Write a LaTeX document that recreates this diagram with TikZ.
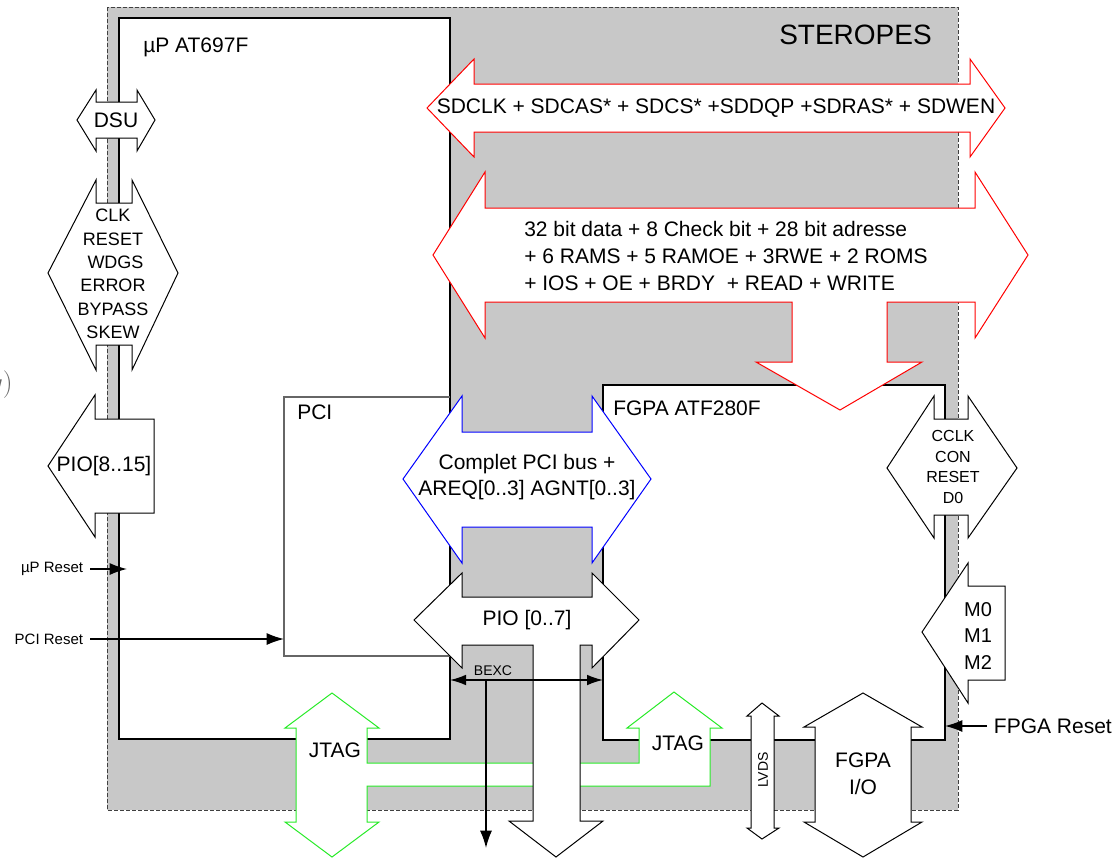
\documentclass[tikz,border=0pt]{standalone}
\usepackage{fontspec}
\setmainfont{Liberation Sans}
\usepackage{tikz}
\usetikzlibrary{arrows.meta,positioning}
\definecolor{boardgray}{RGB}{200,200,200}
\definecolor{busred}{RGB}{255,0,0}
\definecolor{busblue}{RGB}{0,0,255}
\definecolor{busgreen}{RGB}{40,235,40}

\begin{document}
\begin{tikzpicture}[x=0.75pt,y=-0.75pt,
                  board/.style={draw=black!75,fill=boardgray,line width=0.6pt,dash pattern=on 3pt off 1.5pt},
                  chip/.style={draw=black,fill=white,line width=1.4pt},
                  sub/.style={draw=black!60,line width=0.8pt},
                  bus/.style={draw=black,fill=white,line width=0.75pt,line join=miter},
                  rbus/.style={bus,draw=busred},
                  bbus/.style={bus,draw=busblue},
                  gbus/.style={bus,draw=busgreen},
                  sig/.style={-{Latex[length=13pt,width=9pt]},line width=1.1pt},
                  dsig/.style={{Latex[length=12pt,width=8pt]}-{Latex[length=12pt,width=8pt]},line width=1.1pt},
                  tx/.style={font=\fontsize{15.75}{19.9}\selectfont,align=center,inner sep=0pt},
                  tsig/.style={font=\fontsize{13.5}{17.6}\selectfont,align=center,inner sep=0pt},
                  tcfg/.style={font=\fontsize{12}{15.5}\selectfont,align=center,inner sep=0pt},
                  tm/.style={font=\fontsize{15}{20}\selectfont,align=center,inner sep=0pt},
                  tsm/.style={font=\fontsize{11.25}{13}\selectfont,inner xsep=5pt,inner ysep=0pt},
                  ttiny/.style={font=\fontsize{10.5}{12}\selectfont,inner sep=0pt}
                ]
                \useasboundingbox (0,0) rectangle (1117,857);
                \node[anchor=east,text=black!60,inner sep=0pt,font=\fontsize{20}{22}\selectfont] (cut) at (13,385) {$y)$};

                \draw[board] (107,7) rectangle (958,810);
                \node[anchor=east,inner sep=0pt,font=\fontsize{21}{24}\selectfont] (board) at (932,35) {STEROPES};
                \draw[chip] (119,18) rectangle (450,739);
                \node[tx,anchor=west] (cpu) at (143,47) {µP AT697F};
                \draw[chip] (603,385) rectangle (945,740);
                \node[tx,anchor=west] (fpga) at (613,408) {FGPA ATF280F};
                \draw[sub] (450,397) -| (284,656) -- (450,656);
                \node[tx,anchor=west] (pci) at (297,412) {PCI};

                \draw[rbus] (427,108) -- (474,59) -- (474,84) -- (970,84) -- (970,59) -- (1005,108) -- (970,157) -- (970,132) -- (474,132) -- (474,157) -- cycle;
                \node[tx] (sdram) at (716,108) {SDCLK + SDCAS* + SDCS* +SDDQP +SDRAS* + SDWEN};
                \draw[rbus] (433,255) -- (485,172) -- (485,208) -- (975,208) -- (975,172) -- (1028,255) -- (975,338) -- (975,302) -- (887,302) -- (887,362) -- (922,362) -- (840,410) -- (756,362) -- (792,362) -- (792,302) -- (485,302) -- (485,338) -- cycle;
                \node[tx,anchor=west,align=left,font=\fontsize{15.75}{19.9}\selectfont] (mem) at (524,256) {32 bit data + 8 Check bit + 28 bit adresse\\+ 6 RAMS + 5 RAMOE + 3RWE + 2 ROMS\\+ IOS + OE + BRDY \ + READ + WRITE};
                \draw[bbus] (403,479) -- (462,396) -- (462,432) -- (592,432) -- (592,396) -- (651,479) -- (592,563) -- (592,527) -- (462,527) -- (462,563) -- cycle;
                \node[tx] (pcibus) at (527,477) {Complet PCI bus +\\AREQ[0..3] AGNT[0..3]};

                \draw[gbus] (332,693) -- (379,728) -- (367,728) -- (367,763) -- (639,763) -- (639,728) -- (627,728) -- (674,692) -- (722,728) -- (710,728) -- (710,786) -- (367,786) -- (367,822) -- (379,822) -- (332,857) -- (285,822) -- (296,822) -- (296,728) -- (285,728) -- cycle;
                \node[tx] (jtagl) at (335,750) {JTAG};
                \node[tx] (jtagr) at (678,743) {JTAG};

                \draw[bus] (414,620) -- (462,573) -- (462,597) -- (592,597) -- (592,573) -- (639,620) -- (592,668) -- (592,645) -- (580,645) -- (580,821) -- (603,821) -- (556,857) -- (509,821) -- (533,821) -- (533,645) -- (462,645) -- (462,668) -- cycle;
                \node[tx] (pio) at (527,620) {PIO [0..7]};

                \draw[bus] (77,120) -- (96,90) -- (96,102) -- (137,102) -- (137,90) -- (155,120) -- (137,151) -- (137,138) -- (96,138) -- (96,151) -- cycle;
                \node[tx] (dsu) at (116,120) {DSU};
                \draw[bus] (48,273) -- (96,180) -- (96,203) -- (132,203) -- (132,180) -- (178,273) -- (132,370) -- (132,345) -- (96,345) -- (96,370) -- cycle;
                \node[tsig] (ctrl) at (113,274) {CLK\\RESET\\\ WDGS\\ERROR\\BYPASS\\SKEW};
                \draw[bus] (48,466) -- (95,395) -- (95,419) -- (154,419) -- (154,513) -- (95,513) -- (95,537) -- cycle;
                \node[tx] (piohi) at (104,466) {PIO[8..15]};

                \draw[bus] (887,468) -- (934,396) -- (934,419) -- (968,419) -- (968,396) -- (1017,468) -- (968,538) -- (968,515) -- (934,515) -- (934,538) -- cycle;
                \node[tcfg] (cfg) at (953,467) {CCLK\\CON\\RESET\\D0};
                \draw[bus] (922,632) -- (968,563) -- (968,586) -- (1005,586) -- (1005,680) -- (968,680) -- (968,703) -- cycle;
                \node[tm] (mode) at (978,636) {M0\\M1\\M2};
                \draw[bus] (762,703) -- (779,716) -- (774,716) -- (774,828) -- (779,828) -- (762,839) -- (747,828) -- (751,828) -- (751,716) -- (747,716) -- cycle;
                \node[ttiny,rotate=90] (lvds) at (763,770) {LVDS};
                \draw[bus] (863,693) -- (922,727) -- (911,727) -- (911,822) -- (922,822) -- (863,857) -- (804,822) -- (815,822) -- (815,727) -- (804,727) -- cycle;
                \node[tx] (fio) at (863,774) {FGPA\\I/O};

                \node[tsm,anchor=east] (upres) at (90,569) {µP Reset};
                \coordinate (upin) at (127,569);
                \node[tsm,anchor=east] (pcires) at (90,639) {PCI Reset};
                \coordinate (pciin) at (284,639);
                \node[tx,anchor=west,inner xsep=5pt] (fpres) at (987,726) {FPGA Reset};
                \coordinate (fpin) at (945,726);
                \coordinate (bexcl) at (450,680);
                \coordinate (bexcr) at (603,680);
                \coordinate (bexcj) at (486,680);
                \coordinate (bexco) at (486,848);
                \node[ttiny] (bexc) at (493,671) {BEXC};

                \draw[sig] (upres) -- (upin);
                \draw[sig] (pcires) -- (pciin);
                \draw[sig] (fpres) -- (fpin);
                \draw[dsig] (bexcl) -- (bexcr);
                \draw[sig] (bexcj) -- (bexco);
                \end{tikzpicture}
\end{document}
